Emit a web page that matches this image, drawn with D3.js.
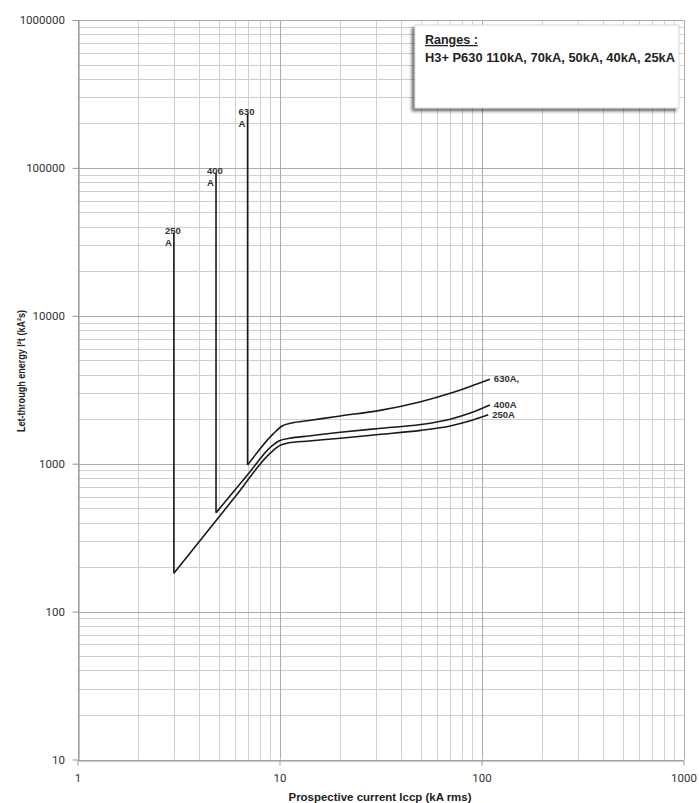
<!DOCTYPE html>
<html><head><meta charset="utf-8">
<script src="https://cdn.jsdelivr.net/npm/d3@7"></script>
<style>
body{margin:0;background:#fff;}
svg{display:block;}
</style></head>
<body>
<svg id="chart" width="699" height="803"></svg>
<script>
// ---- data ----
const xTickValues = [1, 10, 100, 1000];
const xTickLabels = ["1", "10", "100", "1000"];
const yTickValues = [10, 100, 1000, 10000, 100000, 1000000];
const yTickLabels = ["10", "100", "1000", "10000", "100000", "1000000"];

const ratings = ["250A", "400A", "630A,"];
const cutoffCurrent = [3.0, 4.85, 6.95];
const verticalTop = [36400, 92700, 232000];
const curve250 = [[3.0,182],[6,592],[9.0,1180],[10.0,1325],[11.0,1380],[14,1425],[20,1486],[31,1575],[50,1680],[70,1800],[88,1950],[108,2140]];
const curve400 = [[4.85,466],[7,851],[9.0,1290],[10.0,1430],[11.2,1485],[14,1540],[20,1630],[31,1730],[50,1840],[70,2000],[88,2200],[110,2495]];
const curve630 = [[6.95,980],[9.3,1590],[10.3,1800],[11.5,1885],[14,1960],[20,2104],[31,2285],[50,2624],[70,2993],[88,3330],[110,3723]];
const curves = [curve250, curve400, curve630];
const topLabelLines = [["250","A"],["400","A"],["630","A"]];
const legendTitle = "Ranges :";
const legendText = "H3+ P630 110kA, 70kA, 50kA, 40kA, 25kA";
const xTitle = "Prospective current Iccp (kA rms)";
const yTitle = "Let-through energy I²t (kA²s)";

// ---- layout ----
const svg = d3.select("#chart");
const L = 77.5, R = 683.5, T = 20, B = 759.5;
const x = d3.scaleLog().domain([1, 1000]).range([L, R]);
const y = d3.scaleLog().domain([10, 1000000]).range([B, T]);
const FONT = "'Liberation Sans', Arial, sans-serif";

// grid
const minorX = [], minorY = [];
for (let d = 1; d < 1000; d *= 10) for (let k = 2; k <= 9; k++) minorX.push(d * k);
for (let d = 10; d < 1000000; d *= 10) for (let k = 2; k <= 9; k++) minorY.push(d * k);
const g = svg.append("g");
g.selectAll("line.mx").data(minorX).enter().append("line")
  .attr("x1", d => Math.round(x(d)) + 0.5).attr("x2", d => Math.round(x(d)) + 0.5)
  .attr("y1", T).attr("y2", B).attr("stroke", "#cfcfcf").attr("stroke-width", 1);
g.selectAll("line.my").data(minorY).enter().append("line")
  .attr("y1", d => Math.round(y(d)) + 0.5).attr("y2", d => Math.round(y(d)) + 0.5)
  .attr("x1", L).attr("x2", R).attr("stroke", "#cfcfcf").attr("stroke-width", 1);
g.selectAll("line.Mx").data(xTickValues).enter().append("line")
  .attr("x1", d => Math.round(x(d)) + 0.5).attr("x2", d => Math.round(x(d)) + 0.5)
  .attr("y1", T).attr("y2", B).attr("stroke", "#ababab").attr("stroke-width", 1);
g.selectAll("line.My").data(yTickValues).enter().append("line")
  .attr("y1", d => Math.round(y(d)) + 0.5).attr("y2", d => Math.round(y(d)) + 0.5)
  .attr("x1", L).attr("x2", R).attr("stroke", "#ababab").attr("stroke-width", 1);

// axes
const xAxis = d3.axisBottom(x).tickValues(xTickValues).tickFormat((d, i) => xTickLabels[i]).tickSize(5).tickSizeOuter(0);
const yAxis = d3.axisLeft(y).tickValues(yTickValues).tickFormat((d, i) => yTickLabels[i]).tickSize(6).tickSizeOuter(0);
const gx = svg.append("g").attr("transform", `translate(0,${Math.round(B)+0.5})`).call(xAxis);
const gy = svg.append("g").attr("transform", `translate(${Math.round(L)+0.5},0)`).call(yAxis);
[gx, gy].forEach(a => {
  a.select(".domain").attr("stroke", "#999").attr("stroke-width", 1.2);
  a.selectAll(".tick line").attr("stroke", "#999");
  a.selectAll("text").attr("fill", "#333").attr("font-family", "Roboto, 'Open Sans', sans-serif").attr("font-size", 11.5);
});
gx.selectAll("text").attr("dy", "1.2em");
gy.selectAll("text").attr("dx", "-0.4em");

// axis titles
svg.append("text").attr("x", 380).attr("y", 801)
  .attr("text-anchor", "middle").attr("font-family", FONT)
  .attr("font-size", 11.5).attr("font-weight", "bold").attr("fill", "#222")
  .attr("textLength", 183).attr("lengthAdjust", "spacingAndGlyphs").text(xTitle);
svg.append("text").attr("transform", "translate(25,371) rotate(-90)")
  .attr("text-anchor", "middle").attr("font-family", FONT)
  .attr("font-size", 10.5).attr("font-weight", "bold").attr("fill", "#222")
  .attr("textLength", 122).attr("lengthAdjust", "spacingAndGlyphs").text(yTitle);

// curves
const line = d3.line().x(d => x(d[0])).y(d => y(d[1])).curve(d3.curveMonotoneX);
const plot = svg.append("g");
curves.forEach((c, i) => {
  plot.append("line")
    .attr("x1", x(cutoffCurrent[i])).attr("x2", x(cutoffCurrent[i]))
    .attr("y1", y(verticalTop[i])).attr("y2", y(c[0][1]))
    .attr("stroke", "#1a1a1a").attr("stroke-width", 1.6);
  plot.append("path").datum(c).attr("d", line)
    .attr("fill", "none").attr("stroke", "#1a1a1a").attr("stroke-width", 1.6).attr("stroke-linejoin", "round");
  const last = c[c.length - 1];
  plot.append("text").attr("x", x(last[0]) + 4).attr("y", y(last[1]) + 3)
    .attr("font-family", FONT).attr("font-size", 9.5)
    .attr("font-weight", "bold").attr("fill", "#333").text(ratings[i]);
  const t = plot.append("text").attr("font-family", FONT)
    .attr("font-size", 9.5).attr("font-weight", "bold").attr("fill", "#333");
  topLabelLines[i].forEach((s, j) => {
    t.append("tspan").attr("x", x(cutoffCurrent[i]) - 9).attr("y", y(verticalTop[i]) + 1 + j * 12).text(s);
  });
});

// legend box
const defs = svg.append("defs");
const f = defs.append("filter").attr("id", "sh").attr("x", "-10%").attr("y", "-10%").attr("width", "120%").attr("height", "130%");
f.append("feDropShadow").attr("dx", -3).attr("dy", 3).attr("stdDeviation", 1.8).attr("flood-color", "#000").attr("flood-opacity", 0.55);
svg.append("rect").attr("x", 415).attr("y", 25).attr("width", 264).attr("height", 83)
  .attr("fill", "#fff").attr("stroke", "#d0d0d0").attr("stroke-width", 0.8).attr("filter", "url(#sh)");
svg.append("text").attr("x", 425).attr("y", 44)
  .attr("font-family", FONT).attr("font-size", 12.5).attr("font-weight", "bold")
  .attr("fill", "#222").attr("text-decoration", "underline").text(legendTitle);
svg.append("text").attr("x", 425).attr("y", 62)
  .attr("font-family", FONT).attr("font-size", 12.5).attr("font-weight", "bold")
  .attr("fill", "#222").attr("textLength", 250).attr("lengthAdjust", "spacingAndGlyphs").text(legendText);
</script>
</body></html>
